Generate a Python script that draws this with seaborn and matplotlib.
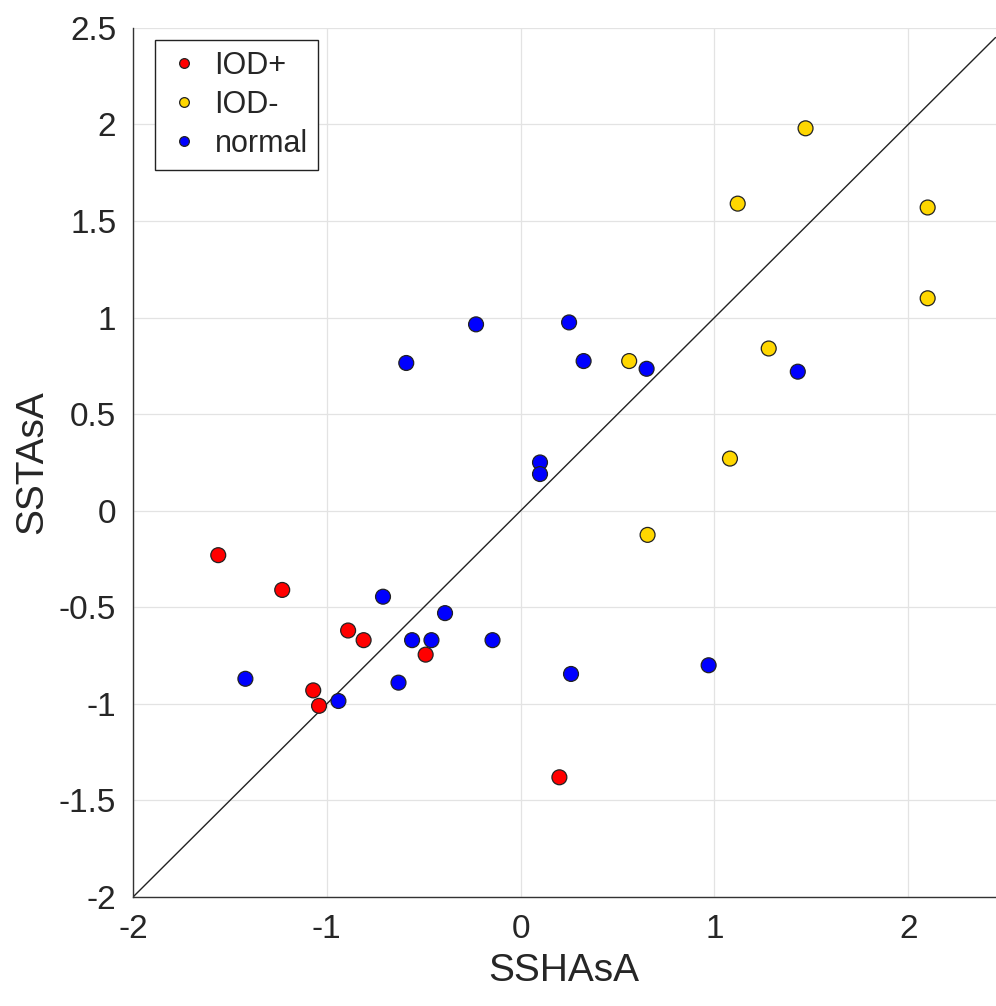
import pandas as pd
import matplotlib.pyplot as plt
import seaborn as sns

# SSHAsA (x) and SSTAsA (y) values, per class
iod_pos_x = [-1.56, -1.23, -0.89, -0.81, -1.07, -1.04, -0.49, 0.20]
iod_pos_y = [-0.23, -0.41, -0.62, -0.67, -0.93, -1.01, -0.745, -1.38]

iod_neg_x = [1.47, 1.12, 2.10, 2.10, 0.56, 1.28, 1.08, 0.655]
iod_neg_y = [1.98, 1.59, 1.57, 1.10, 0.775, 0.84, 0.27, -0.125]

normal_x = [-0.23, 0.25, -0.59, 0.325, 0.65, 1.43, 0.10, 0.10, -0.71, -0.39,
            -0.56, -0.46, -0.145, -1.42, -0.63, 0.26, 0.97, -0.94]
normal_y = [0.965, 0.975, 0.765, 0.775, 0.735, 0.72, 0.25, 0.19, -0.445, -0.53,
            -0.67, -0.67, -0.67, -0.87, -0.89, -0.845, -0.80, -0.985]

groups = ["IOD+", "IOD-", "normal"]
colors = ["#ff0000", "#ffd700", "#0000ff"]

df = pd.concat([
    pd.DataFrame({"SSHAsA": iod_pos_x, "SSTAsA": iod_pos_y, "group": "IOD+"}),
    pd.DataFrame({"SSHAsA": iod_neg_x, "SSTAsA": iod_neg_y, "group": "IOD-"}),
    pd.DataFrame({"SSHAsA": normal_x, "SSTAsA": normal_y, "group": "normal"}),
])

sns.set_style("white")
plt.rcParams['font.family'] = ['Liberation Sans', 'DejaVu Sans']
plt.rcParams['axes.unicode_minus'] = False

fig = plt.figure(figsize=(9.96, 10.06), dpi=100)
ax = fig.add_axes([0.1335, 0.1083, 0.866, 0.864])

ax.grid(True, color="#e3e3e3", linewidth=0.9)
ax.set_axisbelow(True)

# 1:1 reference line
ax.plot([-2, 2.45], [-2, 2.45], color="#222222", linewidth=1.0, zorder=1)

sns.scatterplot(data=df, x="SSHAsA", y="SSTAsA", hue="group",
                hue_order=groups, palette=colors, s=115,
                edgecolor="#222222", linewidth=0.9, ax=ax, zorder=3)

ax.set_xlim(-2, 2.45)
ax.set_ylim(-2, 2.5)
ax.set_xticks([-2, -1, 0, 1, 2])
ax.set_yticks([-2, -1.5, -1, -0.5, 0, 0.5, 1, 1.5, 2, 2.5])
ax.set_yticklabels(["-2", "-1.5", "-1", "-0.5", "0", "0.5", "1", "1.5", "2", "2.5"])

for side in ["top", "right"]:
    ax.spines[side].set_visible(False)
for side in ["left", "bottom"]:
    ax.spines[side].set_color("#333333")
    ax.spines[side].set_linewidth(1.0)

ax.tick_params(axis="both", which="major", labelsize=24, colors="#262626",
               direction="in", length=6, width=0.8)
ax.tick_params(axis="x", pad=12)
ax.tick_params(axis="y", pad=12)
ax.set_xlabel("SSHAsA", fontsize=28, color="#262626", labelpad=6)
ax.set_ylabel("SSTAsA", fontsize=28, color="#262626", labelpad=6)

handles, labels = ax.get_legend_handles_labels()
for h in handles:
    h.set_markersize(7)
leg = ax.legend(handles, labels, loc="upper left", bbox_to_anchor=(0.0255, 0.986),
                borderaxespad=0, fontsize=22, frameon=True, fancybox=False,
                edgecolor="#222222", framealpha=1, handletextpad=0.4,
                labelspacing=0.3, borderpad=0.35, handlelength=1.2)
leg.get_frame().set_linewidth(1.0)

fig.savefig("out.png", dpi=100)
